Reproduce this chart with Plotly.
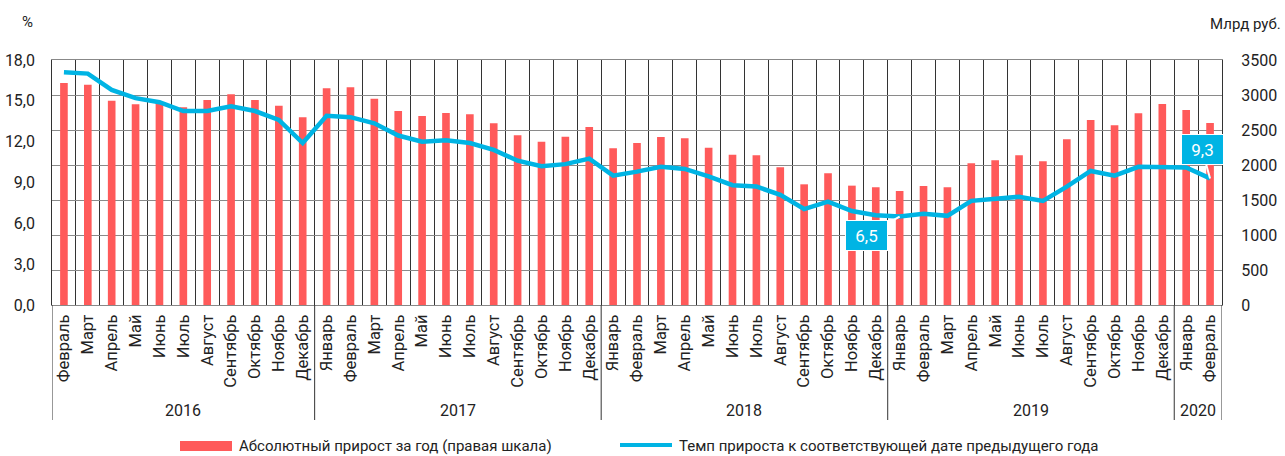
import plotly.graph_objects as go

months = ["Февраль","Март","Апрель","Май","Июнь","Июль","Август","Сентябрь","Октябрь","Ноябрь","Декабрь",
          "Январь","Февраль","Март","Апрель","Май","Июнь","Июль","Август","Сентябрь","Октябрь","Ноябрь","Декабрь",
          "Январь","Февраль","Март","Апрель","Май","Июнь","Июль","Август","Сентябрь","Октябрь","Ноябрь","Декабрь",
          "Январь","Февраль","Март","Апрель","Май","Июнь","Июль","Август","Сентябрь","Октябрь","Ноябрь","Декабрь",
          "Январь","Февраль"]
years = ["2016", "2017", "2018", "2019", "2020"]
year_counts = [11, 12, 12, 12, 2]

abs_growth = [3171, 3148, 2919, 2867, 2890, 2824, 2929, 3010, 2929, 2848, 2681,
              3095, 3110, 2948, 2771, 2700, 2743, 2724, 2595, 2424, 2333, 2405, 2543,
              2238, 2314, 2400, 2381, 2248, 2148, 2138, 1967, 1724, 1881, 1705, 1681,
              1629, 1700, 1681, 2024, 2067, 2138, 2052, 2367, 2643, 2567, 2738, 2871,
              2786, 2600]
growth_rate = [17.1, 17.0, 15.8, 15.2, 14.9, 14.25, 14.25, 14.6, 14.25, 13.6, 11.9,
               13.9, 13.8, 13.35, 12.45, 12.0, 12.1, 11.9, 11.4, 10.6, 10.2, 10.35, 10.75,
               9.5, 9.8, 10.15, 10.0, 9.45, 8.8, 8.7, 8.1, 7.05, 7.6, 6.9, 6.6,
               6.5, 6.7, 6.55, 7.65, 7.8, 7.95, 7.65, 8.7, 9.85, 9.5, 10.15, 10.15,
               10.1, 9.3]
callout_idx = [35, 48]

left_ticks = [0, 3, 6, 9, 12, 15, 18]
right_ticks = [0, 500, 1000, 1500, 2000, 2500, 3000, 3500]

bar_name = "Абсолютный прирост за год (правая шкала)"
line_name = "Темп прироста к соответствующей дате предыдущего года"

RED = "#ff5a5a"
CYAN = "#00b4e4"
FONT = "Roboto, 'Open Sans', sans-serif"
TXT = "#222222"

x = list(range(len(months)))
n = len(months)

fig = go.Figure()
fig.add_trace(go.Bar(x=x, y=abs_growth, name=bar_name, marker=dict(color=RED, line=dict(width=0)),
                     width=0.32, yaxis="y"))
fig.add_trace(go.Scatter(x=x, y=growth_rate, name=line_name, mode="lines",
                         line=dict(color=CYAN, width=4.5), yaxis="y2"))

W, H = 1285, 456
ml, mr, mt, mb = 52, 63, 60, 151
pw, ph = W - ml - mr, H - mt - mb

def px_x(p):
    return (p - ml) / pw

def px_y(p):
    return (H - mb - p) / ph

shapes = []
annotations = []

# year group dividers and labels
start = 0
bounds = [-0.5]
for c in year_counts:
    start += c
    bounds.append(start - 0.5)
for b in bounds:
    shapes.append(dict(type="line", xref="x", yref="paper", x0=b, x1=b, y0=0, y1=px_y(420),
                       line=dict(color="#333333", width=1)))
for i, yr in enumerate(years):
    annotations.append(dict(x=(bounds[i] + bounds[i + 1]) / 2, y=px_y(410), xref="x", yref="paper",
                            text=yr, showarrow=False, font=dict(family=FONT, size=16, color=TXT),
                            xanchor="center", yanchor="middle"))

# callouts
callout_pos = {35: (-33, 19), 48: (-8, -29)}
for idx in callout_idx:
    ax, ay = callout_pos[idx]
    annotations.append(dict(x=idx, y=growth_rate[idx], xref="x", yref="y2",
                            text=f"{growth_rate[idx]:.1f}".replace(".", ","),
                            showarrow=True, arrowhead=0, arrowwidth=2, arrowcolor="white",
                            ax=ax, ay=ay, bgcolor=CYAN, bordercolor="white", borderwidth=1,
                            width=39, height=27, font=dict(family=FONT, size=17, color="white")))

# axis titles
annotations.append(dict(x=px_x(27), y=px_y(22), xref="paper", yref="paper", text="%", showarrow=False,
                        font=dict(family=FONT, size=15, color=TXT), xanchor="center", yanchor="middle"))
annotations.append(dict(x=px_x(1283), y=px_y(24), xref="paper", yref="paper", text="Млрд руб.", showarrow=False,
                        font=dict(family=FONT, size=15, color=TXT), xanchor="right", yanchor="middle"))

# manual legend
shapes.append(dict(type="rect", xref="paper", yref="paper", x0=px_x(180), x1=px_x(232),
                   y0=px_y(451), y1=px_y(441), fillcolor=RED, line=dict(width=0)))
annotations.append(dict(x=px_x(237), y=px_y(446), xref="paper", yref="paper", text=bar_name, showarrow=False,
                        font=dict(family=FONT, size=15, color=TXT), xanchor="left", yanchor="middle"))
shapes.append(dict(type="line", xref="paper", yref="paper", x0=px_x(620), x1=px_x(672),
                   y0=px_y(445), y1=px_y(445), line=dict(color=CYAN, width=4)))
annotations.append(dict(x=px_x(677), y=px_y(446), xref="paper", yref="paper", text=line_name, showarrow=False,
                        font=dict(family=FONT, size=15, color=TXT), xanchor="left", yanchor="middle"))

fig.update_layout(
    width=W, height=H,
    margin=dict(l=ml, r=mr, t=mt, b=mb, pad=0, autoexpand=False),
    paper_bgcolor="white", plot_bgcolor="white",
    separators=", ",
    showlegend=False,
    font=dict(family=FONT, size=15, color=TXT),
    xaxis=dict(range=[-0.5, n - 0.5], tickmode="array", tickvals=x, ticktext=months, tickangle=-90,
               automargin=False,
               showgrid=False, zeroline=False, showline=True, linecolor="#888888", linewidth=1, mirror=True,
               ticks="", ticklabelstandoff=2, tickfont=dict(family=FONT, size=16.5, color=TXT),
               minor=dict(tickmode="array", tickvals=[i - 0.5 for i in range(n + 1)],
                          showgrid=True, gridcolor="#333333", gridwidth=1, ticks="")),
    yaxis=dict(side="right", range=[0, 3500], tickmode="array", tickvals=right_ticks, automargin=False,
               showgrid=True, gridcolor="#8a8a8a", gridwidth=1, zeroline=False,
               showline=True, linecolor="#333333", linewidth=1, mirror=True,
               ticks="", ticklabelstandoff=15, tickfont=dict(family=FONT, size=16, color=TXT)),
    yaxis2=dict(side="left", overlaying="y", range=[0, 18], tickmode="array", tickvals=left_ticks,
                automargin=False,
                tickformat=".1f", showgrid=False, zeroline=False, showline=False,
                ticks="", ticklabelstandoff=16, tickfont=dict(family=FONT, size=16, color=TXT)),
    shapes=shapes,
    annotations=annotations,
)

fig.write_html("out.html", config={"displayModeBar": False},
               post_script="document.body.style.margin='0';document.body.style.overflow='hidden';")
